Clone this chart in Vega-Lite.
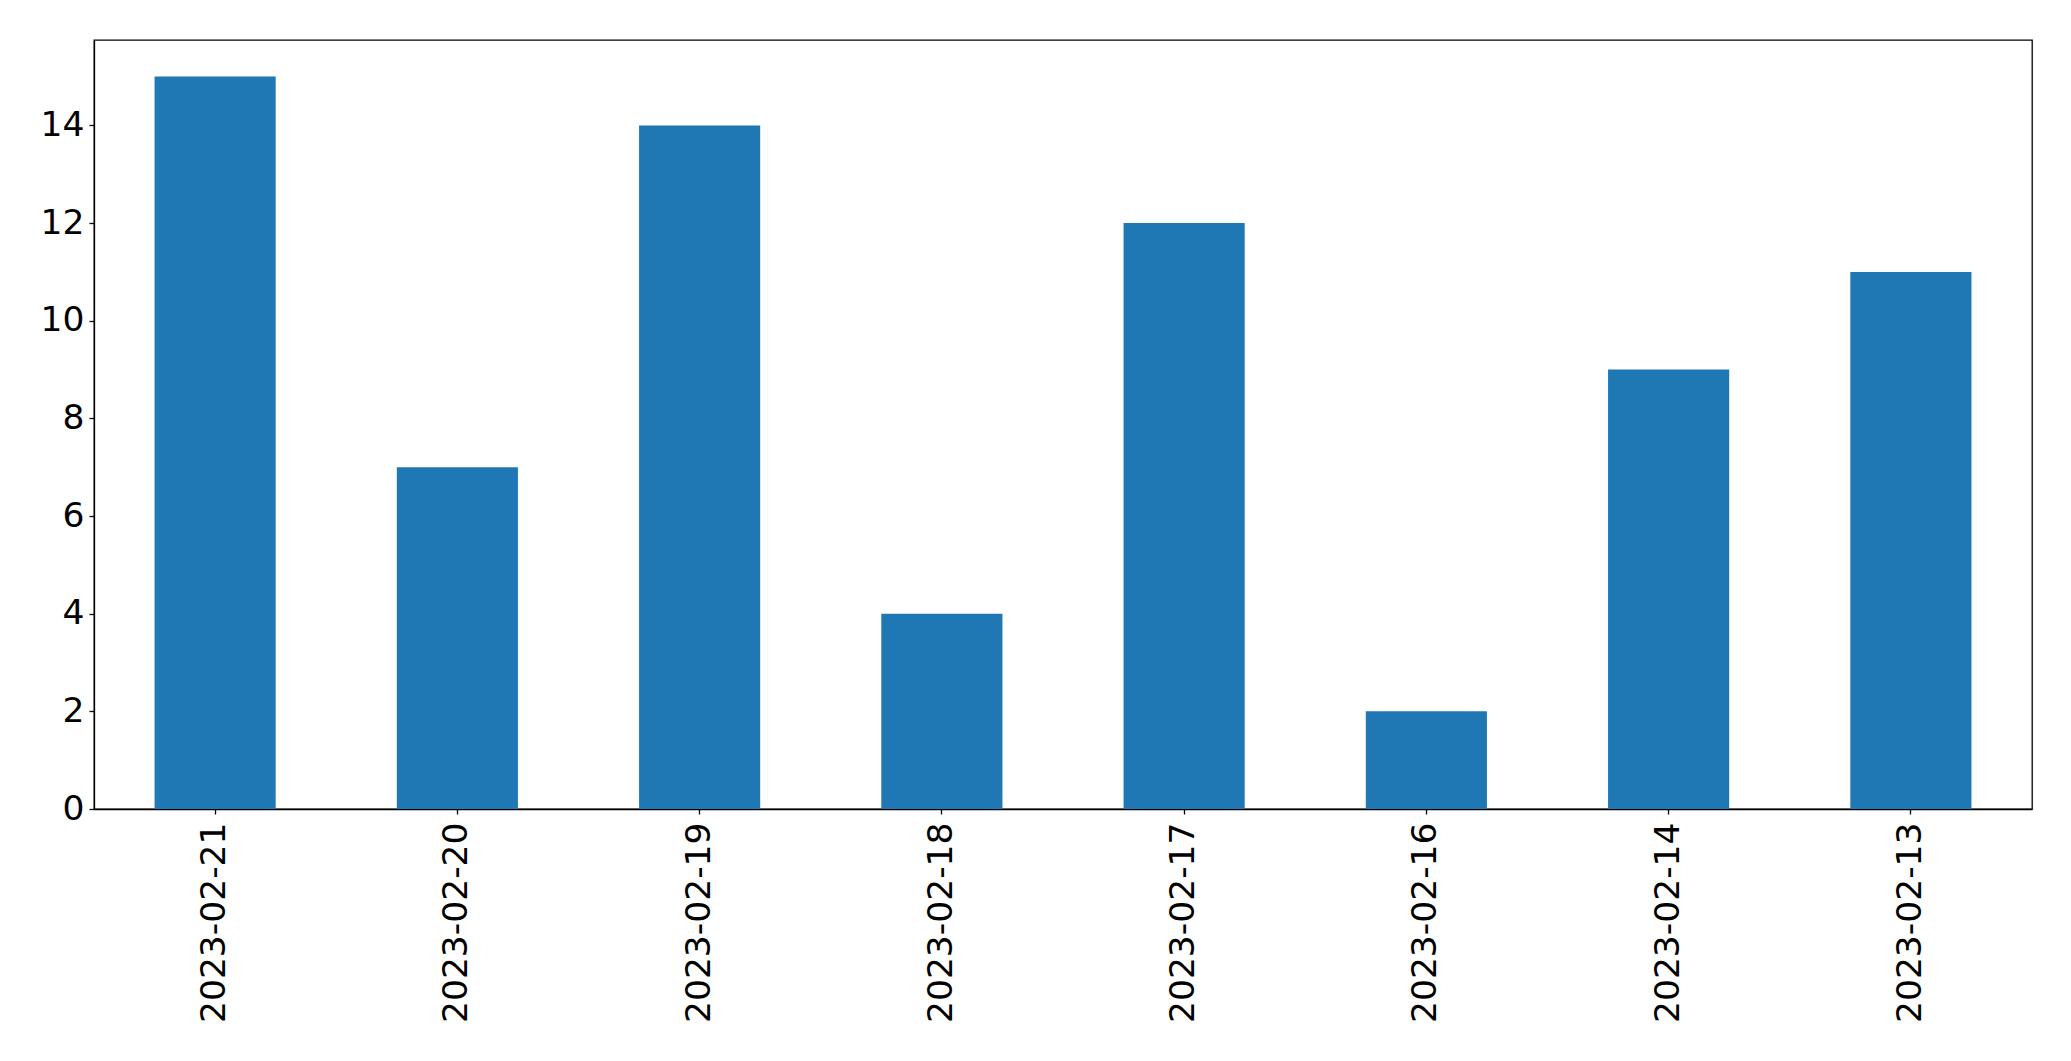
{
  "$schema": "https://vega.github.io/schema/vega-lite/v6.json",
  "autosize": "none",
  "width": 1938,
  "height": 769,
  "padding": {"left": 94, "top": 40, "right": 39, "bottom": 252},
  "background": "white",
  "config": {
    "font": "DejaVu Sans",
    "view": {"stroke": "black", "strokeWidth": 1.3},
    "axis": {
      "domainColor": "black",
      "domainWidth": 1.3,
      "tickColor": "black",
      "tickWidth": 1.3,
      "tickSize": 5,
      "labelFont": "DejaVu Sans",
      "labelFontSize": 34.5,
      "labelColor": "black",
      "labelLimit": 0,
      "grid": false,
      "title": null
    }
  },
  "data": {
    "values": [
      {"date": "2023-02-21", "count": 15},
      {"date": "2023-02-20", "count": 7},
      {"date": "2023-02-19", "count": 14},
      {"date": "2023-02-18", "count": 4},
      {"date": "2023-02-17", "count": 12},
      {"date": "2023-02-16", "count": 2},
      {"date": "2023-02-14", "count": 9},
      {"date": "2023-02-13", "count": 11}
    ]
  },
  "mark": {"type": "bar", "color": "#1f77b4"},
  "encoding": {
    "x": {
      "field": "date",
      "type": "nominal",
      "sort": null,
      "scale": {"paddingInner": 0.5, "paddingOuter": 0.25},
      "axis": {"labelAngle": -90, "labelPadding": 8, "labelBaseline": "middle", "labelAlign": "right"}
    },
    "y": {
      "field": "count",
      "type": "quantitative",
      "scale": {"domain": [0, 15.75], "nice": false},
      "axis": {"values": [0, 2, 4, 6, 8, 10, 12, 14], "labelPadding": 5}
    }
  }
}
